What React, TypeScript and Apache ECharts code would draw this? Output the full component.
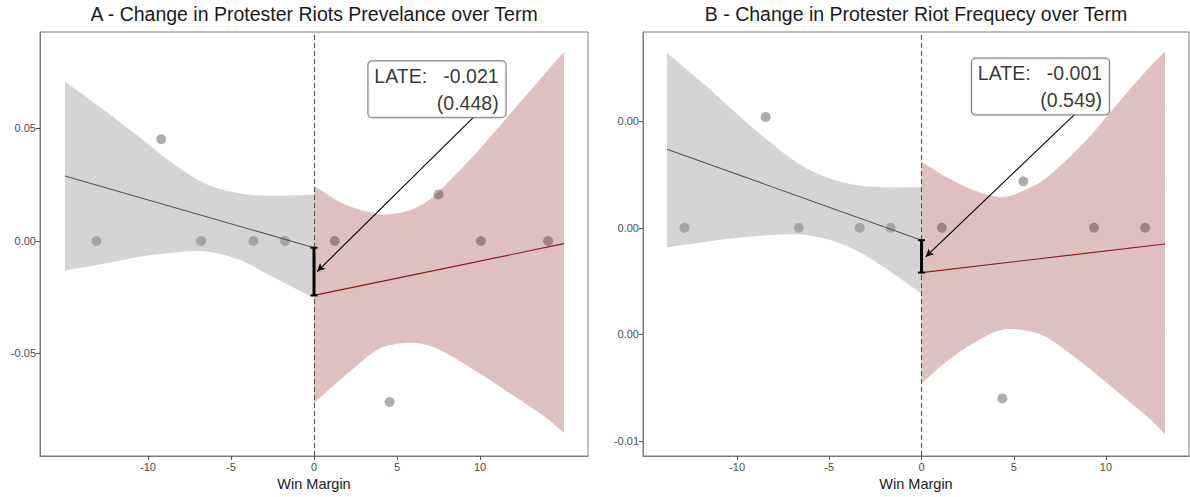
import React, { useEffect, useRef } from "react";
import * as echarts from "echarts";

// ---------- Panel A data ----------
const titleA = "A - Change in Protester Riots Prevelance over Term";
const pointsAX = [-13.1, -9.2, -6.8, -3.65, -1.75, 1.25, 4.55, 7.5, 10.05, 14.1];
const pointsAY = [0, 0.0452, 0, 0, 0, 0, -0.0716, 0.0207, 0, 0];
const grayBandAX = [-15.0, -12.5, -10.5, -8.5, -6.5, -4.5, -2.5, 0];
const grayBandAUp = [0.0708, 0.0575, 0.0461, 0.0345, 0.0253, 0.0212, 0.0201, 0.0207];
const grayBandALo = [-0.0132, -0.0099, -0.007, -0.0052, -0.0047, -0.0084, -0.0159, -0.0255];
const redBandAX = [0, 1.8, 3.8, 4.6, 5.8, 6.8, 7.8, 9.83, 11.84, 13.84, 15.05];
const redBandAUp = [0.0246, 0.0164, 0.012, 0.0119, 0.0138, 0.0175, 0.0241, 0.0397, 0.0568, 0.0738, 0.0841];
const redBandALo = [-0.0721, -0.0603, -0.0484, -0.0462, -0.0452, -0.0462, -0.0492, -0.0582, -0.068, -0.0778, -0.0853];
const grayFitA = [[-15.0, 0.0289], [0, -0.003]];
const redFitA = [[0, -0.0242], [15.05, -0.0012]];
const errBarA = [0, -0.003, -0.0242];
const arrowA = [[9.63, 0.0552], [0.19, -0.0136]];
const lateA = "LATE:   -0.021\n(0.448)";
const boxAnchorA = [11.54, 0.0675];
const yTicksA = [-0.05, 0, 0.05];
const yLabelsA = ["-0.05", "0.00", "0.05"];
const yRangeA = [-0.0956, 0.0929];
const xRangeA = [-16.5, 16.5];

// ---------- Panel B data ----------
const titleB = "B - Change in Protester Riot Frequecy over Term";
const pointsBX = [-12.85, -8.45, -6.65, -3.35, -1.67, 1.1, 4.38, 5.52, 9.35, 12.12];
const pointsBY = [0, 0.0026, 0, 0, 0, 0, -0.004, 0.00109, 0, 0];
const grayBandBX = [-13.8, -11.64, -9.83, -8.03, -6.22, -4.41, -2.61, 0];
const grayBandBUp = [0.0041, 0.00331, 0.0026, 0.00194, 0.00139, 0.00108, 0.00096, 0.00095];
const grayBandBLo = [-0.00046, -0.00033, -0.00023, -0.00017, -0.00017, -0.00037, -0.00076, -0.00154];
const redBandBX = [0, 1.46, 3.27, 4.53, 5.98, 6.88, 8.69, 10.49, 12.3, 13.2];
const redBandBUp = [0.00155, 0.00116, 0.00081, 0.00073, 0.00096, 0.00121, 0.00194, 0.00284, 0.00374, 0.00413];
const redBandBLo = [-0.00365, -0.0031, -0.00259, -0.00238, -0.00244, -0.00259, -0.00316, -0.0038, -0.00445, -0.00484];
const grayFitB = [[-13.8, 0.00184], [0, -0.00029]];
const redFitB = [[0, -0.00105], [13.2, -0.00038]];
const errBarB = [0, -0.00029, -0.00105];
const arrowB = [[8.33, 0.00267], [0.23, -0.00068]];
const lateB = "LATE:   -0.001\n(0.549)";
const boxAnchorB = [10.17, 0.00331];
const yTicksB = [-0.005, -0.0025, 0, 0.0025];
const yLabelsB = ["-0.01", "0.00", "0.00", "0.00"];
const yRangeB = [-0.00535, 0.00459];
const xRangeB = [-15.1, 14.5];

// ---------- shared ----------
const xTicks = [-10, -5, 0, 5, 10];
const xLabels = ["-10", "-5", "0", "5", "10"];
const xName = "Win Margin";

const FONT = "'Liberation Sans', Arial, Helvetica, sans-serif";

function labelFor(ticks: number[], labels: string[]) {
  return (v: number) => {
    let best = 0;
    for (let i = 0; i < ticks.length; i++) {
      if (Math.abs(ticks[i] - v) < Math.abs(ticks[best] - v)) best = i;
    }
    return labels[best];
  };
}

function zip(xs: number[], ys: number[]) {
  return xs.map((x, i) => [x, ys[i]]);
}

// confidence ribbon drawn as one smoothed polygon through the library's coordinate system
function bandSeries(idx: number, xs: number[], lo: number[], up: number[], color: string) {
  const rows = xs.map((x, i) => [x, lo[i], up[i]]);
  return {
    type: "custom",
    xAxisIndex: idx,
    yAxisIndex: idx,
    data: rows,
    dimensions: ["x", "lo", "up"],
    encode: { x: 0, y: [1, 2] },
    z: 2,
    silent: true,
    renderItem: (params: any, api: any) => {
      if (params.dataIndex !== 0) return null;
      const n = rows.length;
      const upper: number[][] = [];
      const lower: number[][] = [];
      for (let i = 0; i < n; i++) {
        upper.push(api.coord([api.value(0, i), api.value(2, i)]));
        lower.push(api.coord([api.value(0, i), api.value(1, i)]));
      }
      lower.reverse();
      // duplicate end points so that the vertical ends stay straight when smoothed
      const pts = [
        upper[0], ...upper, upper[n - 1],
        lower[0], ...lower, lower[n - 1],
      ];
      return {
        type: "polygon",
        shape: { points: pts, smooth: 0.35 },
        style: { fill: color, stroke: "none" },
      };
    },
  };
}

function panelSeries(
  idx: number,
  px: number[], py: number[],
  gx: number[], glo: number[], gup: number[],
  rx: number[], rlo: number[], rup: number[],
  gfit: number[][], rfit: number[][],
  err: number[], arrow: number[][],
  late: string, anchor: number[]
) {
  return [
    {
      type: "scatter",
      xAxisIndex: idx,
      yAxisIndex: idx,
      data: zip(px, py),
      symbolSize: 10,
      itemStyle: { color: "#999999" },
      z: 1,
      silent: true,
      markLine: {
        silent: true,
        symbol: ["none", "none"],
        label: { show: false },
        lineStyle: { type: [5, 3], color: "#555555", width: 1.1 },
        data: [{ xAxis: 0 }],
        z: 3,
      },
    },
    bandSeries(idx, gx, glo, gup, "rgba(153,153,153,0.42)"),
    bandSeries(idx, rx, rlo, rup, "rgba(123,3,5,0.25)"),
    {
      type: "line",
      xAxisIndex: idx,
      yAxisIndex: idx,
      data: gfit,
      showSymbol: false,
      symbol: "none",
      lineStyle: { color: "#555555", width: 1.1 },
      z: 3,
      silent: true,
    },
    {
      type: "line",
      xAxisIndex: idx,
      yAxisIndex: idx,
      data: rfit,
      showSymbol: false,
      symbol: "none",
      lineStyle: { color: "#8b1a1a", width: 1.2 },
      z: 3,
      silent: true,
      markLine: {
        silent: true,
        symbol: ["none", "arrow"],
        symbolSize: [6, 8],
        label: { show: false },
        lineStyle: { type: "solid", color: "#000000", width: 1.1 },
        data: [[{ coord: arrow[0] }, { coord: arrow[1] }]],
        z: 5,
      },
    },
    {
      type: "custom",
      xAxisIndex: idx,
      yAxisIndex: idx,
      data: [err],
      dimensions: ["x", "hi", "lo"],
      encode: { x: 0, y: [1, 2] },
      z: 4,
      silent: true,
      renderItem: (params: any, api: any) => {
        const x = api.value(0);
        const a = api.coord([x, api.value(1)]);
        const b = api.coord([x, api.value(2)]);
        const cap = 3.5;
        return {
          type: "group",
          children: [
            { type: "line", shape: { x1: a[0], y1: a[1], x2: b[0], y2: b[1] }, style: { stroke: "#000", lineWidth: 3 } },
            { type: "line", shape: { x1: a[0] - cap, y1: a[1], x2: a[0] + cap, y2: a[1] }, style: { stroke: "#000", lineWidth: 2 } },
            { type: "line", shape: { x1: b[0] - cap, y1: b[1], x2: b[0] + cap, y2: b[1] }, style: { stroke: "#000", lineWidth: 2 } },
          ],
        };
      },
    },
    {
      type: "scatter",
      xAxisIndex: idx,
      yAxisIndex: idx,
      data: [anchor],
      symbolSize: 0,
      z: 6,
      silent: true,
      label: {
        show: true,
        position: "left",
        distance: 0,
        formatter: late,
        fontFamily: FONT,
        fontSize: 19.5,
        lineHeight: 27,
        color: "#000000",
        align: "right",
        verticalAlign: "middle",
        backgroundColor: "#ffffff",
        borderColor: "#555555",
        borderWidth: 1,
        borderRadius: 4,
        padding: [1, 7, 1, 6],
      },
    },
  ];
}

function xAxisCfg(idx: number, range: number[]) {
  return {
    gridIndex: idx,
    type: "value",
    min: range[0],
    max: range[1],
    name: xName,
    nameLocation: "middle",
    nameGap: 20,
    nameTextStyle: { fontSize: 14.5, color: "#1a1a1a", fontFamily: FONT },
    axisLine: { show: true, onZero: false, lineStyle: { color: "#7a7a7a", width: 1 } },
    axisTick: { show: true, customValues: xTicks, length: 4, lineStyle: { color: "#555555" } },
    axisLabel: {
      customValues: xTicks,
      formatter: labelFor(xTicks, xLabels),
      fontSize: 11,
      color: "#4d4d4d",
      fontFamily: FONT,
      margin: 5,
    },
    splitLine: { show: false },
  };
}

function yAxisCfg(idx: number, range: number[], ticks: number[], labels: string[]) {
  return {
    gridIndex: idx,
    type: "value",
    min: range[0],
    max: range[1],
    axisLine: { show: true, onZero: false, lineStyle: { color: "#7a7a7a", width: 1 } },
    axisTick: { show: true, customValues: ticks, length: 4, lineStyle: { color: "#555555" } },
    axisLabel: {
      customValues: ticks,
      formatter: labelFor(ticks, labels),
      fontSize: 11,
      color: "#4d4d4d",
      fontFamily: FONT,
      margin: 4,
    },
    splitLine: { show: false },
  };
}

export default function App() {
  const ref = useRef<HTMLDivElement>(null);
  useEffect(() => {
    if (!ref.current) return;
    const chart = echarts.init(ref.current, undefined, { renderer: "svg" });
    const titleStyle = { fontSize: 19.5, fontWeight: "normal", color: "#1a1a1a", fontFamily: FONT };
    chart.setOption({
      animation: false,
      backgroundColor: "#ffffff",
      title: [
        { text: titleA, left: 314, top: 4, textAlign: "center", textStyle: titleStyle, padding: 0 },
        { text: titleB, left: 916, top: 4, textAlign: "center", textStyle: titleStyle, padding: 0 },
      ],
      grid: [
        { left: 40, top: 32, width: 548, height: 424, show: true, borderColor: "#7a7a7a", borderWidth: 1 },
        { left: 643, top: 32, width: 546, height: 424, show: true, borderColor: "#7a7a7a", borderWidth: 1 },
      ],
      xAxis: [xAxisCfg(0, xRangeA), xAxisCfg(1, xRangeB)],
      yAxis: [yAxisCfg(0, yRangeA, yTicksA, yLabelsA), yAxisCfg(1, yRangeB, yTicksB, yLabelsB)],
      series: [
        ...panelSeries(0, pointsAX, pointsAY, grayBandAX, grayBandALo, grayBandAUp,
          redBandAX, redBandALo, redBandAUp, grayFitA, redFitA, errBarA, arrowA, lateA, boxAnchorA),
        ...panelSeries(1, pointsBX, pointsBY, grayBandBX, grayBandBLo, grayBandBUp,
          redBandBX, redBandBLo, redBandBUp, grayFitB, redFitB, errBarB, arrowB, lateB, boxAnchorB),
      ],
    });
    return () => chart.dispose();
  }, []);
  return (
    <div
      ref={ref}
      style={{ position: "absolute", left: 0, top: 0, width: 1190, height: 497, background: "#fff" }}
    />
  );
}
